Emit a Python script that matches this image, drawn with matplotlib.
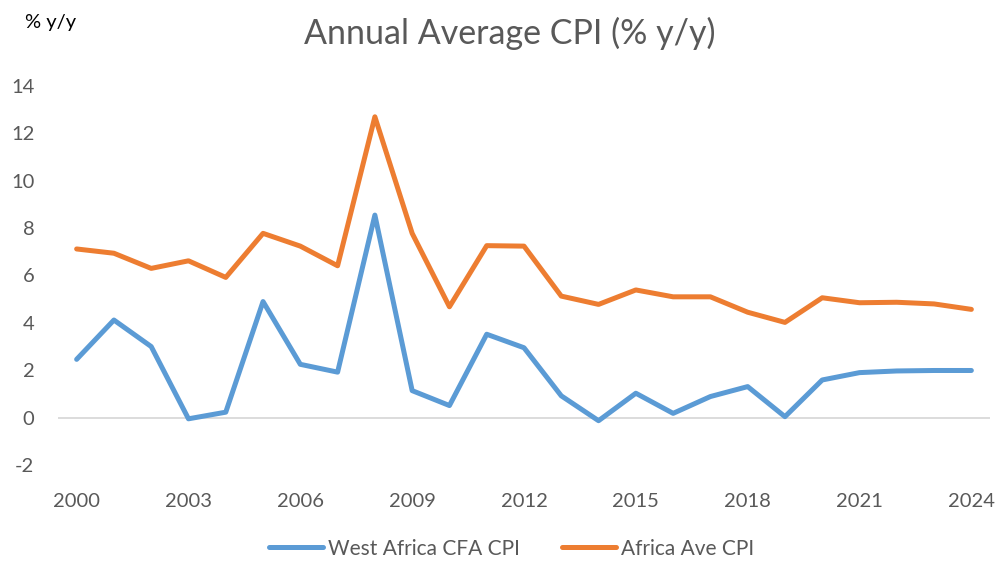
import matplotlib.pyplot as plt

plt.rcParams['font.family'] = ['Lato', 'DejaVu Sans']
plt.rcParams['axes.unicode_minus'] = False

years = list(range(2000, 2025))
west_africa_cfa = [2.46, 4.12, 3.0, -0.05, 0.23, 4.9, 2.25, 1.92, 8.55, 1.14, 0.51, 3.52, 2.95,
                   0.92, -0.13, 1.03, 0.18, 0.89, 1.31, 0.04, 1.59, 1.9, 1.97, 1.99, 1.99]
africa_ave = [7.12, 6.94, 6.3, 6.62, 5.92, 7.78, 7.24, 6.41, 12.7, 7.78, 4.68, 7.26, 7.24,
              5.13, 4.78, 5.39, 5.1, 5.1, 4.45, 4.02, 5.06, 4.85, 4.87, 4.8, 4.57]
xtick_years = list(range(2000, 2025, 3))
yticks = list(range(-2, 15, 2))

fig = plt.figure(figsize=(9.97, 5.61), dpi=100)
ax = fig.add_axes([58 / 997, 1 - 465 / 561, (990 - 58) / 997, (465 - 86) / 561])

# zero line acts as the category axis
ax.axhline(0, color='#D9D9D9', linewidth=1.3, zorder=1)
ax.plot(years, west_africa_cfa, color='#5B9BD5', linewidth=3.6, solid_capstyle='round',
        solid_joinstyle='round', label='West Africa CFA CPI', zorder=3)
ax.plot(years, africa_ave, color='#ED7D31', linewidth=3.6, solid_capstyle='round',
        solid_joinstyle='round', label='Africa Ave CPI', zorder=3)

ax.set_xlim(1999.5, 2024.5)
ax.set_ylim(-2, 14)
ax.set_xticks(xtick_years)
ax.set_yticks(yticks)
ax.tick_params(axis='both', length=0, labelsize=14.5, labelcolor='#595959')
ax.tick_params(axis='x', pad=20)
ax.tick_params(axis='y', pad=17)
for s in ax.spines.values():
    s.set_visible(False)

fig.text(0.511, 0.94, 'Annual Average CPI (% y/y)', ha='center', va='center',
         fontsize=24.5, color='#595959')
fig.text(0.025, 0.96, '% y/y', ha='left', va='center', fontsize=14.5, color='black')

leg = fig.legend(loc='center', bbox_to_anchor=(0.513, 0.022), ncol=2, frameon=False,
                 fontsize=15, handlelength=2.6, columnspacing=2.0, handletextpad=0.25)
for t in leg.get_texts():
    t.set_color('#595959')

fig.savefig('out.png', dpi=100)
